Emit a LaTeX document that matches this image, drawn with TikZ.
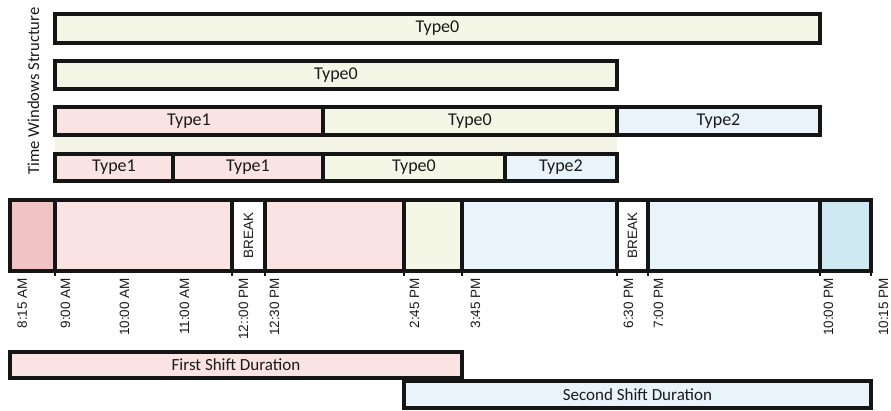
\documentclass[tikz,border=0pt]{standalone}
\usepackage{fontspec}
\setmainfont{Carlito}
\newfontfamily\ticklabelfont{Liberation Sans}

\definecolor{edge}{HTML}{151515}
\definecolor{ink}{HTML}{1A1A1A}
\definecolor{typezero}{HTML}{F5F7E6}
\definecolor{typeone}{HTML}{F9E4E3}
\definecolor{typetwo}{HTML}{E8F4FA}
\definecolor{earlypink}{HTML}{F0C4C4}
\definecolor{lateblue}{HTML}{CDE8F0}
\definecolor{gapband}{HTML}{F3F3E6}

% \seg{name}{x1}{y1}{x2}{y2}{fill}{text}: a bordered box between two corners
\newcommand\seg[7]{%
  \node[segbox, fill=#6, minimum width={#4pt-#2pt}, minimum height={#5pt-#3pt}]
    (#1) at ({(#2+#4)/2},{(#3+#5)/2}) {#7};}
\newcommand\shiftsize{\fontsize{17}{19}\selectfont}

\begin{document}
\begin{tikzpicture}[x=1pt, y=-1pt,
  segbox/.style={draw=edge, line width=3.6pt, rectangle, inner sep=0pt,
    outer sep=0pt, text=ink, font=\fontsize{18}{20}\selectfont},
  timelbl/.style={rotate=90, anchor=base east, inner sep=0pt, text=ink,
    font=\ticklabelfont\fontsize{13.5}{15}\selectfont},
  breaklbl/.style={rotate=90, inner sep=0pt, text=ink,
    font=\ticklabelfont\fontsize{13.5}{15}\selectfont},
  tickmark/.style={draw=edge, line width=2.6pt},
  sidelbl/.style={rotate=90, inner sep=0pt, text=ink,
    font=\fontsize{16.6}{18}\selectfont}]

\useasboundingbox (0,0) rectangle (891,410);

% side caption
\node[sidelbl] (title) at (33.5,91) {Time Windows Structure};

% time window structures
\seg{rowA}{55}{14}{820}{43}{typezero}{Type0}
\seg{rowB}{55}{61}{617}{89}{typezero}{Type0}

\fill[gapband] (55,137) rectangle (617,152);

\seg{rowCa}{55}{107}{323}{135}{typeone}{Type1}
\seg{rowCb}{323}{107}{617}{135}{typezero}{Type0}
\seg{rowCc}{617}{107}{820}{135}{typetwo}{Type2}

\seg{rowDa}{55}{154}{173}{181}{typeone}{Type1}
\seg{rowDb}{173}{154}{323}{181}{typeone}{Type1}
\seg{rowDc}{323}{154}{505}{181}{typezero}{Type0}
\seg{rowDd}{505}{154}{617}{181}{typetwo}{Type2}

% the working day
\seg{tl1}{10}{200}{55}{271}{earlypink}{}
\seg{tl2}{55}{200}{232}{271}{typeone}{}
\seg{brk1}{232}{200}{265}{271}{white}{}
\seg{tl3}{265}{200}{404}{271}{typeone}{}
\seg{tl4}{404}{200}{462}{271}{typezero}{}
\seg{tl5}{462}{200}{617}{271}{typetwo}{}
\seg{brk2}{617}{200}{648}{271}{white}{}
\seg{tl6}{648}{200}{820}{271}{typetwo}{}
\seg{tl7}{820}{200}{871}{271}{lateblue}{}

\node[breaklbl] (brkA) at (brk1.center) {BREAK};
\node[breaklbl] (brkB) at (brk2.center) {BREAK};

% ticks under the dividers
\foreach \s in {tl2,brk1,tl3,tl4,tl5,brk2,tl6,tl7}
  \draw[tickmark] (\s.south west) -- ++(0,5);
\draw[tickmark] (tl7.south east) -- ++(0,5);

% clock times
\node[timelbl] (t1)  at (27,278)  {8:15 AM};
\node[timelbl] (t2)  at (70,278)  {9:00 AM};
\node[timelbl] (t3)  at (129,278) {10:00 AM};
\node[timelbl] (t4)  at (189,278) {11:00 AM};
\node[timelbl] (t5)  at (248,278) {12::00 PM};
\node[timelbl] (t6)  at (279,278) {12:30 PM};
\node[timelbl] (t7)  at (419,278) {2:45 PM};
\node[timelbl] (t8)  at (480,278) {3:45 PM};
\node[timelbl] (t9)  at (633,278) {6:30 PM};
\node[timelbl] (t10) at (663,278) {7:00 PM};
\node[timelbl] (t11) at (833,278) {10:00 PM};
\node[timelbl] (t12) at (888,278) {10:15 PM};

% shift spans
\seg{shiftA}{10}{352}{462}{378}{typeone}{\shiftsize First Shift Duration}
\seg{shiftB}{404}{381}{871}{408}{typetwo}{\shiftsize Second Shift Duration}

\end{tikzpicture}
\end{document}
